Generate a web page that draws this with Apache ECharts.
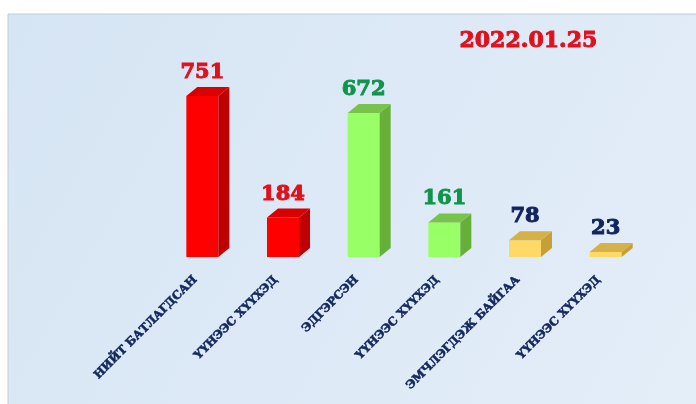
<!DOCTYPE html>
<html>
<head>
<meta charset="utf-8">
<script src="https://cdn.jsdelivr.net/npm/echarts@6/dist/echarts.min.js"></script>
<style>
  html, body { margin: 0; padding: 0; background: #fff; }
  #main { width: 696px; height: 404px; }
</style>
</head>
<body>
<div id="main"></div>
<script>
// data
var categories = [
  "НИЙТ БАТЛАГДСАН",
  "ҮҮНЭЭС ХҮҮХЭД",
  "ЭДГЭРСЭН",
  "ҮҮНЭЭС ХҮҮХЭД",
  "ЭМЧЛЭГДЭЖ БАЙГАА",
  "ҮҮНЭЭС ХҮҮХЭД"
];
var values = [751, 184, 672, 161, 78, 23];
var dateText = "2022.01.25";

// colours per bar (front / side / top / value label)
var red = { front: "#ff0000", side: "#c00000", top: "#d80000", label: "#e0101c" };
var green = { front: "#99ff66", side: "#66b03a", top: "#78c44a", label: "#10944c" };
var yellow = { front: "#ffd966", side: "#c4a038", top: "#d6b048", label: "#12245e" };
var palette = [red, red, green, green, yellow, yellow];

var myChart = echarts.init(document.getElementById("main"));

// draws one bar with a fake 3D look
function renderBar(params, api) {
  var i = api.value(0);
  var top = api.coord([i, api.value(1)]);
  var base = api.coord([i, 0]);
  var w = 32, dx = 11, dy = 9;
  var x0 = top[0] - w / 2, x1 = x0 + w;
  var c = palette[i];
  return {
    type: "group",
    children: [
      { type: "rect", shape: { x: x0, y: top[1], width: w, height: base[1] - top[1] }, style: { fill: c.front } },
      { type: "polygon", shape: { points: [[x1, top[1]], [x1 + dx, top[1] - dy], [x1 + dx, base[1] - dy], [x1, base[1]]] }, style: { fill: c.side } },
      { type: "polygon", shape: { points: [[x0, top[1]], [x0 + dx, top[1] - dy], [x1 + dx, top[1] - dy], [x1, top[1]]] }, style: { fill: c.top } },
      {
        type: "text",
        style: {
          text: String(api.value(1)),
          x: top[0], y: top[1] - dy - 4,
          align: "center", verticalAlign: "bottom",
          fontFamily: "DejaVu Serif",
          fontWeight: "bold",
          fontSize: 21,
          fill: c.label,
          stroke: c.label,
          lineWidth: 1
        }
      }
    ]
  };
}

var option = {
  animation: false,
  graphic: [
    {
      type: "rect", z: -10, silent: true,
      shape: { x: 8, y: 14, width: 700, height: 400 },
      style: {
        fill: new echarts.graphic.LinearGradient(0, 0, 1, 1, [
          { offset: 0, color: "#d6e5f4" },
          { offset: 0.5, color: "#dde9f6" },
          { offset: 1, color: "#e4eef9" }
        ]),
        stroke: "#c4ccd6", lineWidth: 1
      }
    },
    {
      type: "text", left: 459, top: 30,
      style: {
        text: dateText,
        fontFamily: "DejaVu Serif",
        fontWeight: "bold",
        fontSize: 22,
        fill: "#e0101c",
        stroke: "#e0101c",
        lineWidth: 1
      }
    }
  ],
  grid: { left: 162, right: 50, top: 42.6, bottom: 147, outerBoundsMode: "none", containLabel: false },
  xAxis: {
    type: "category",
    data: categories,
    axisLine: { show: false },
    axisTick: { show: false },
    axisLabel: {
      interval: 0,
      rotate: 45,
      margin: 14,
      padding: [0, 10, 0, 0],
      color: "#14285e",
      textBorderColor: "#14285e",
      textBorderWidth: 0.6,
      fontFamily: "DejaVu Serif",
      fontWeight: "bold",
      fontSize: 11.5
    }
  },
  yAxis: { type: "value", min: 0, max: 1000, show: false },
  series: [
    {
      type: "custom",
      renderItem: renderBar,
      data: values.map(function (v, i) { return [i, v]; })
    }
  ]
};
myChart.setOption(option);
</script>
</body>
</html>
